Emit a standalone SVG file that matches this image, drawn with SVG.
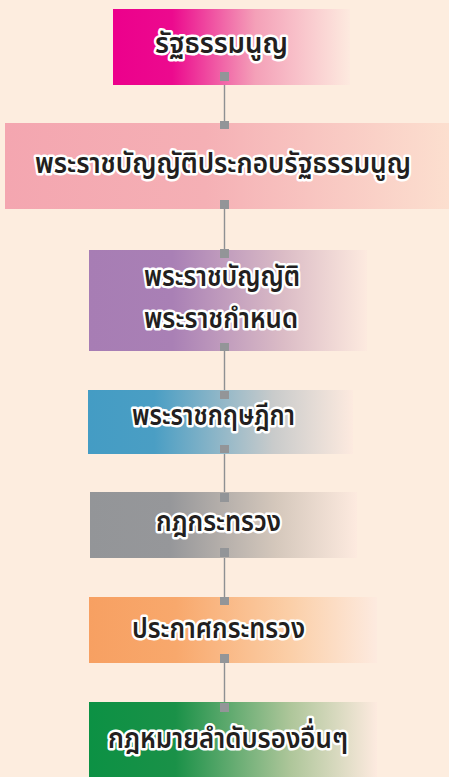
<svg xmlns="http://www.w3.org/2000/svg" width="449" height="777" viewBox="0 0 449 777">
<style>
.lbl{font-family:"Noto Sans","Noto Sans Thai","Noto Sans Thai Looped",sans-serif;font-size:29px;fill:#231f20;stroke:#ffffff;stroke-width:5px;stroke-linejoin:round;paint-order:stroke fill;font-weight:600}
.conn{stroke:#8e9093;stroke-width:1.4}
.sq{fill:#939598}
</style>
<defs>
<linearGradient id="g1" x1="0" x2="1" y1="0" y2="0"><stop offset="0" stop-color="#ec008c"/><stop offset="0.25" stop-color="#ec0a8e"/><stop offset="0.6" stop-color="#f4a0b8"/><stop offset="1" stop-color="#fdeadf"/></linearGradient>
<linearGradient id="g2" x1="0" x2="1" y1="0" y2="0"><stop offset="0" stop-color="#f4a6b0"/><stop offset="0.45" stop-color="#f5b0b5"/><stop offset="1" stop-color="#fcdfcf"/></linearGradient>
<linearGradient id="g3" x1="0" x2="1" y1="0" y2="0"><stop offset="0" stop-color="#a77db4"/><stop offset="0.3" stop-color="#a980b5"/><stop offset="0.7" stop-color="#dbbcc6"/><stop offset="1" stop-color="#fdeadf"/></linearGradient>
<linearGradient id="g4" x1="0" x2="1" y1="0" y2="0"><stop offset="0" stop-color="#449cc4"/><stop offset="0.25" stop-color="#4a9ec4"/><stop offset="0.7" stop-color="#c9cbcb"/><stop offset="1" stop-color="#fdeadf"/></linearGradient>
<linearGradient id="g5" x1="0" x2="1" y1="0" y2="0"><stop offset="0" stop-color="#939598"/><stop offset="0.3" stop-color="#96979a"/><stop offset="0.7" stop-color="#d5c8bc"/><stop offset="1" stop-color="#fdeadf"/></linearGradient>
<linearGradient id="g6" x1="0" x2="1" y1="0" y2="0"><stop offset="0" stop-color="#f7a062"/><stop offset="0.3" stop-color="#f8a86c"/><stop offset="0.7" stop-color="#fbcfa8"/><stop offset="1" stop-color="#fdeadf"/></linearGradient>
<linearGradient id="g7" x1="0" x2="1" y1="0" y2="0"><stop offset="0" stop-color="#0c9144"/><stop offset="0.3" stop-color="#1a9148"/><stop offset="0.7" stop-color="#aec69a"/><stop offset="1" stop-color="#fdeadf"/></linearGradient>
</defs>
<rect width="449" height="777" fill="#fdeddf"/>
<g id="connectors">
<line class="conn" x1="224.5" y1="80" x2="224.5" y2="705"/>
</g>
<g id="n1"><rect x="113" y="9" width="237" height="76" fill="url(#g1)"/><text class="lbl" x="155" y="53" textLength="133" lengthAdjust="spacingAndGlyphs">รัฐธรรมนูญ</text><rect class="sq" x="220" y="72" width="9" height="9"/></g>
<g id="n2"><rect x="5" y="123" width="444" height="86" fill="url(#g2)"/><text class="lbl" x="35" y="173" textLength="376" lengthAdjust="spacingAndGlyphs">พระราชบัญญัติประกอบรัฐธรรมนูญ</text><rect class="sq" x="220" y="121" width="9" height="8"/><rect class="sq" x="220" y="200" width="9" height="9"/></g>
<g id="n3"><rect x="89" y="250" width="278" height="101" fill="url(#g3)"/><text class="lbl" x="144" y="286" textLength="156" lengthAdjust="spacingAndGlyphs">พระราชบัญญัติ</text><text class="lbl" x="144" y="328" textLength="154" lengthAdjust="spacingAndGlyphs">พระราชกำหนด</text><rect class="sq" x="220" y="249" width="9" height="9"/><rect class="sq" x="220" y="343" width="9" height="8"/></g>
<g id="n4"><rect x="88" y="390" width="265" height="64" fill="url(#g4)"/><text class="lbl" x="132" y="425" textLength="163" lengthAdjust="spacingAndGlyphs">พระราชกฤษฎีกา</text><rect class="sq" x="220" y="391" width="9" height="8"/><rect class="sq" x="220" y="445" width="9" height="8"/></g>
<g id="n5"><rect x="90" y="492" width="267" height="66" fill="url(#g5)"/><text class="lbl" x="156" y="531" textLength="125" lengthAdjust="spacingAndGlyphs">กฎกระทรวง</text><rect class="sq" x="220" y="493" width="9" height="9"/><rect class="sq" x="220" y="548" width="9" height="9"/></g>
<g id="n6"><rect x="89" y="597" width="288" height="66" fill="url(#g6)"/><text class="lbl" x="132" y="638" textLength="173" lengthAdjust="spacingAndGlyphs">ประกาศกระทรวง</text><rect class="sq" x="220" y="597" width="9" height="8"/><rect class="sq" x="220" y="654" width="9" height="9"/></g>
<g id="n7"><rect x="89" y="702" width="288" height="75" fill="url(#g7)"/><text class="lbl" x="108" y="748" textLength="240" lengthAdjust="spacingAndGlyphs">กฎหมายลำดับรองอื่นๆ</text><rect class="sq" x="220" y="703" width="9" height="9"/></g>
</svg>
